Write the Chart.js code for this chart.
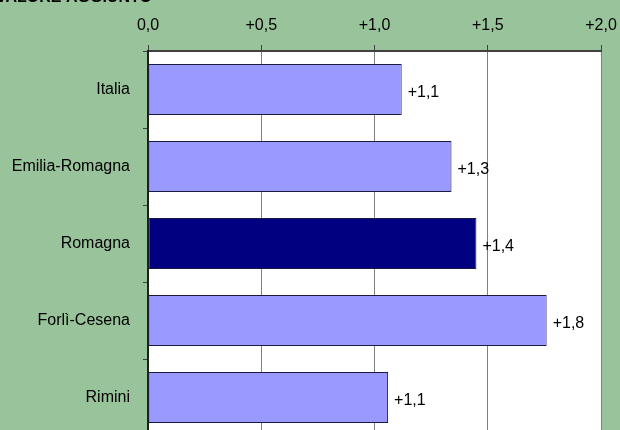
<!DOCTYPE html>
<html>
<head>
<meta charset="utf-8">
<script src="https://cdn.jsdelivr.net/npm/chart.js@4/dist/chart.umd.min.js"></script>
<style>
  html, body { margin: 0; padding: 0; background: #99c39a; overflow: hidden; }
  #wrap { width: 620px; height: 436px; position: relative; }
</style>
</head>
<body>
<div id="wrap"><canvas id="chartCanvas"></canvas></div>
<script>
const categorie = ['Italia', 'Emilia-Romagna', 'Romagna', 'Forlì-Cesena', 'Rimini'];
const valori = [1.12, 1.34, 1.45, 1.76, 1.06];
const etichette = ['+1,1', '+1,3', '+1,4', '+1,8', '+1,1'];
const coloriBarre = ['#9999ff', '#9999ff', '#000080', '#9999ff', '#9999ff'];
const titolo = 'VALORE AGGIUNTO';

const FONT = '"Liberation Sans", Arial, sans-serif';

function formatta(v) {
  const s = v.toFixed(1).replace('.', ',');
  return v > 0 ? '+' + s : s;
}

// niente padding automatico: l'area del grafico la decidiamo noi
function azzeraPadding(scale) {
  scale.paddingTop = 0;
  scale.paddingBottom = 0;
  scale.paddingLeft = 0;
  scale.paddingRight = 0;
}

// sfondo bianco dell'area del grafico + titolo tagliato in alto
const sfondo = {
  id: 'sfondo',
  beforeDraw(chart) {
    const { ctx, chartArea: a } = chart;
    ctx.save();
    ctx.fillStyle = '#ffffff';
    ctx.fillRect(a.left, a.top, a.right - a.left, a.bottom - a.top);
    ctx.fillStyle = '#000000';
    ctx.font = 'bold 16px ' + FONT;
    ctx.textBaseline = 'alphabetic';
    ctx.fillText(titolo, -4, 2);
    ctx.restore();
  }
};

const etichetteValori = {
  id: 'etichetteValori',
  afterDatasetsDraw(chart) {
    const { ctx } = chart;
    const meta = chart.getDatasetMeta(0);
    ctx.save();
    ctx.fillStyle = '#000000';
    ctx.font = '16px ' + FONT;
    ctx.textBaseline = 'middle';
    meta.data.forEach((bar, i) => {
      ctx.fillText(etichette[i], bar.x + 6, bar.y + 3);
    });
    ctx.restore();
  }
};

new Chart(document.getElementById('chartCanvas'), {
  type: 'bar',
  data: {
    labels: categorie,
    datasets: [{
      data: valori,
      backgroundColor: coloriBarre,
      borderColor: '#1a1a40',
      borderWidth: 1,
      borderSkipped: false,
      categoryPercentage: 1,
      barPercentage: 0.66
    }]
  },
  options: {
    indexAxis: 'y',
    responsive: true,
    maintainAspectRatio: false,
    animation: false,
    layout: { padding: { left: 0, right: 19, top: 0, bottom: 0 } },
    plugins: { legend: { display: false }, tooltip: { enabled: false } },
    scales: {
      x: {
        position: 'top',
        min: 0,
        max: 2,
        afterFit(scale) { scale.height = 51; azzeraPadding(scale); },
        ticks: {
          stepSize: 0.5,
          color: '#000000',
          padding: 10,
          maxRotation: 0,
          font: { family: FONT, size: 16 },
          callback: (v) => formatta(v)
        },
        grid: { color: '#808080', lineWidth: 1, tickLength: 6, tickColor: '#404040' },
        border: { color: '#404040', width: 2 }
      },
      y: {
        afterFit(scale) { scale.width = 148; azzeraPadding(scale); },
        ticks: {
          color: '#000000',
          padding: 13,
          font: { family: FONT, size: 16 }
        },
        grid: { offset: true, drawOnChartArea: false, tickLength: 5, tickColor: '#404040' },
        border: { color: '#202020', width: 2 }
      }
    }
  },
  plugins: [sfondo, etichetteValori]
});
</script>
</body>
</html>
